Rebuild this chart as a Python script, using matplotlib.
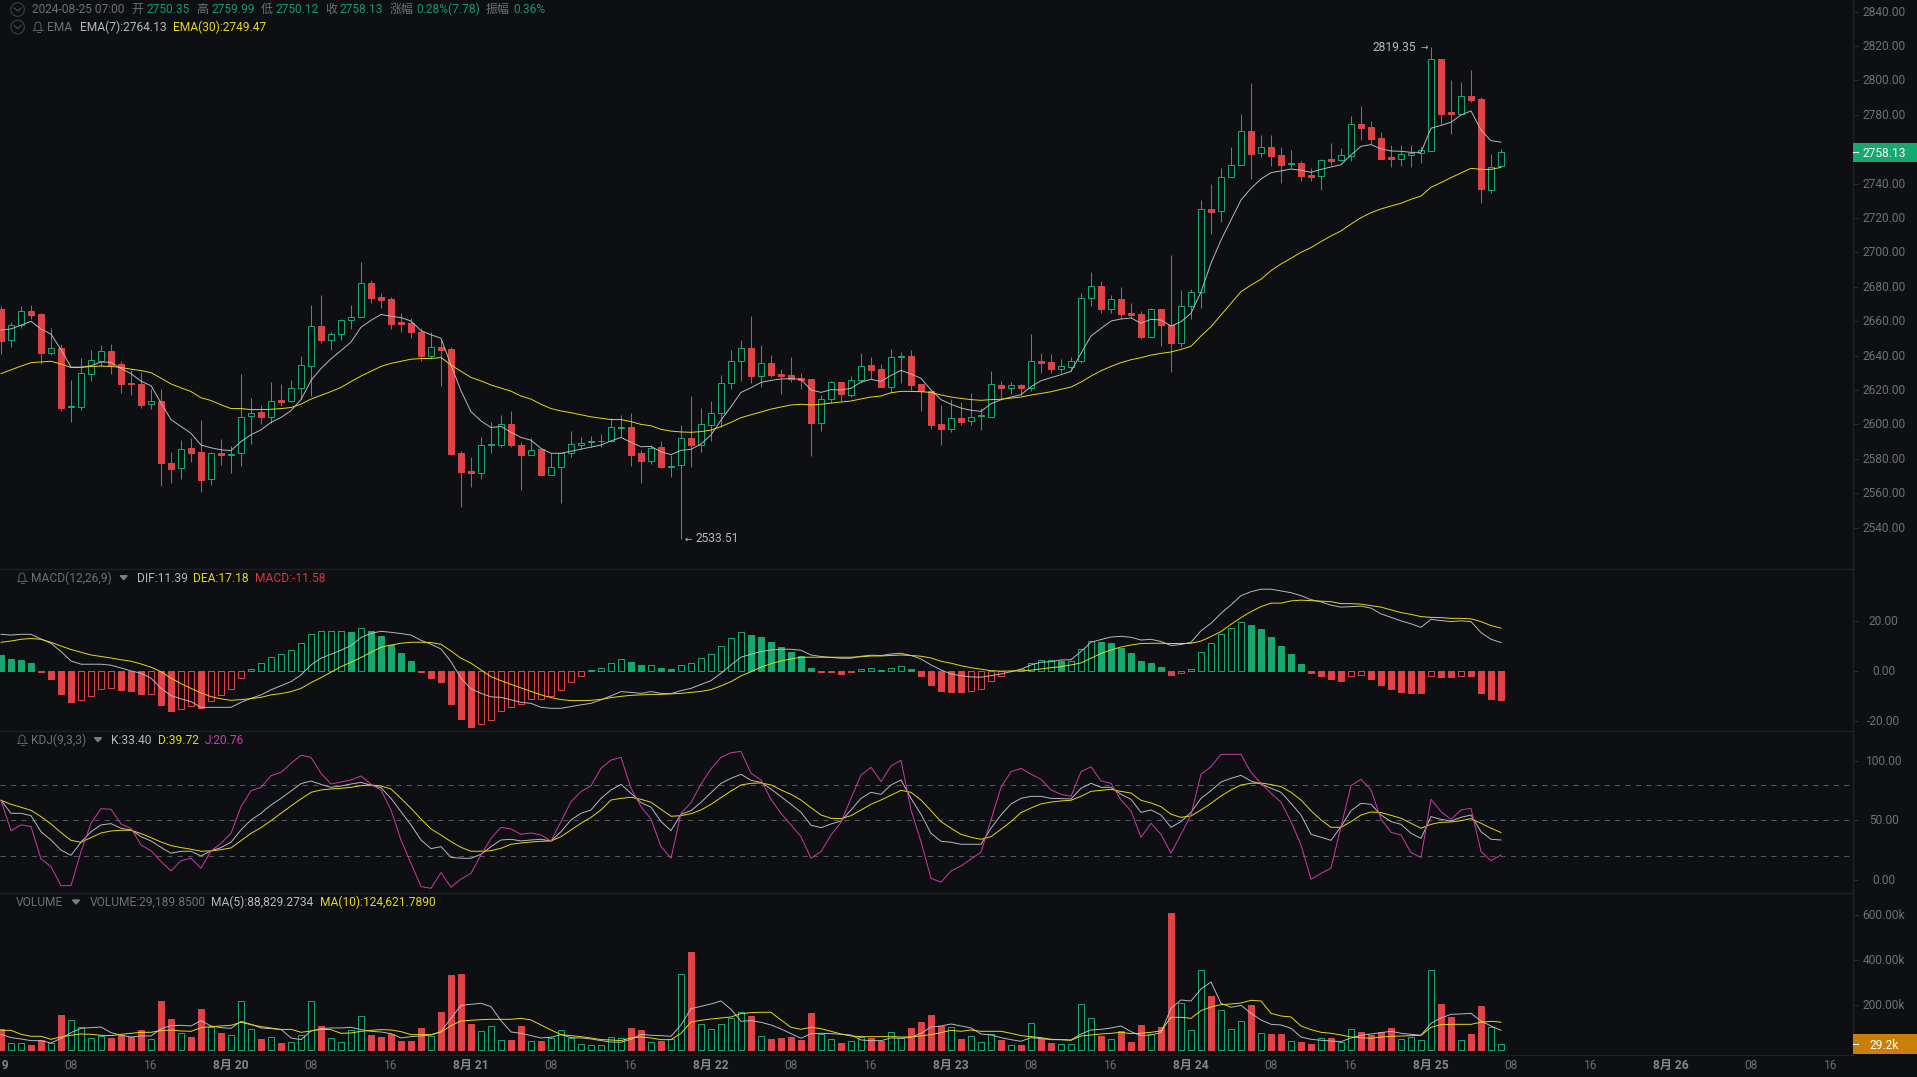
import numpy as np
import matplotlib
matplotlib.use('Agg')
import matplotlib.pyplot as plt
from matplotlib.patches import Circle, Polygon, Rectangle
from matplotlib.transforms import blended_transform_factory, ScaledTranslation

plt.rcParams['font.family'] = ['Roboto', 'Noto Sans CJK SC', 'DejaVu Sans']

# candles, 1h, index 0 = 08-19 01:00
opens = [2667.1, 2649, 2658, 2665.7, 2664.1, 2641.7, 2644.5, 2610, 2610.2, 2629.5,
         2637, 2642.5, 2634.9, 2624, 2623.5, 2611.7, 2613.5, 2577.8, 2574.4, 2586,
         2583.8, 2568, 2583.2, 2582.4, 2583.2, 2604.6, 2607, 2604.4, 2614, 2613.5,
         2620.9, 2634.1, 2657.5, 2649.3, 2652.3, 2660.5, 2662.7, 2682, 2674, 2673,
         2659.5, 2659, 2654, 2639.7, 2645, 2643.9, 2583.4, 2572.8, 2572, 2587.8,
         2587.8, 2600, 2587.8, 2582.4, 2585.4, 2570.8, 2575, 2583.2, 2588.2, 2589.8,
         2590.2, 2590.4, 2598, 2598.2, 2583.5, 2578.9, 2586.6, 2575.5, 2576.2, 2592.1,
         2588, 2599.6, 2606.4, 2623.9, 2636.7, 2644.4, 2628.3, 2635.7, 2629.3, 2628.5,
         2627, 2626.4, 2601, 2614.6, 2624.4, 2617.3, 2625.6, 2634.3, 2632, 2621.9,
         2639.2, 2639.6, 2623.3, 2619.2, 2600.2, 2597.3, 2604, 2602.2, 2604.8, 2604.5,
         2622.9, 2621.4, 2622.9, 2621.4, 2636.9, 2636.3, 2632.4, 2633.6, 2636.7, 2673.3,
         2680.5, 2667.3, 2672.9, 2664.8, 2664.2, 2651, 2667.1, 2657.8, 2647.5, 2668.6,
         2676.8, 2725.1, 2723.9, 2743.7, 2750.7, 2770.6, 2757.6, 2761.3, 2756.7, 2751.3,
         2751.8, 2745, 2744.3, 2754.3, 2753.6, 2756.3, 2774.5, 2773, 2766.6, 2755.5,
         2754.5, 2756.9, 2757.6, 2759.2, 2812.3, 2781.5, 2780.7, 2790.8, 2789.2, 2736.5,
         2750.35]
closes = [2648.5, 2658, 2665.7, 2663.5, 2641.7, 2644.3, 2609.4, 2610.5, 2629.7, 2637.3,
          2642.5, 2634.5, 2623.7, 2623.3, 2611.5, 2613.5, 2577.8, 2574.2, 2585.4, 2583.6,
          2567.8, 2583.2, 2582.4, 2583, 2604.4, 2606.8, 2604.4, 2613.5, 2613.3, 2620.9,
          2634.5, 2657.5, 2648.9, 2652.3, 2660.5, 2662.5, 2682, 2673.7, 2672.3, 2658.3,
          2658.3, 2654, 2639.7, 2645, 2643.5, 2582.8, 2572.4, 2572, 2587.8, 2588.4,
          2600, 2587.8, 2582.4, 2585.2, 2570.8, 2575, 2583.2, 2588.4, 2589.4, 2590.2,
          2590.6, 2598.2, 2598.6, 2582.4, 2578.9, 2586.5, 2575, 2576, 2591.9, 2588,
          2600, 2606.4, 2623.9, 2636.7, 2644.2, 2628.3, 2635.5, 2628.7, 2628.3, 2626.6,
          2626, 2601, 2614.6, 2624.4, 2617.9, 2625.6, 2634.1, 2631.8, 2621.9, 2639,
          2639.6, 2623.1, 2619.2, 2599.6, 2597.3, 2604, 2601.4, 2604.5, 2605.2, 2623.3,
          2621.4, 2622.7, 2621.4, 2636.7, 2635.7, 2632.2, 2633.8, 2636.7, 2673.3, 2680.3,
          2667.1, 2672.7, 2664.2, 2663.8, 2650.6, 2666.9, 2658, 2647.5, 2668.6, 2676.8,
          2725.1, 2723.7, 2743.7, 2750.7, 2770.4, 2757.4, 2761.1, 2756.3, 2751, 2751.8,
          2744.7, 2744.1, 2754, 2753.2, 2756.5, 2774.5, 2772.4, 2766.2, 2754.3, 2754.3,
          2757, 2757.6, 2759.6, 2812.3, 2780.5, 2780.5, 2790.8, 2788.6, 2736.9, 2749.5,
          2758.13]
highs = [2669, 2659.5, 2668.7, 2669.3, 2664.5, 2656, 2646.9, 2625.7, 2638.5, 2643,
         2646, 2646.7, 2636.9, 2631.5, 2630.5, 2620.5, 2620.3, 2584, 2590.8, 2592,
         2602.4, 2584, 2591.4, 2587.4, 2629.5, 2615.5, 2611.4, 2624.9, 2623.5, 2625.7,
         2639.5, 2669.5, 2675.5, 2654, 2661, 2669.5, 2694.2, 2684, 2676.4, 2674.3,
         2665, 2662, 2656, 2654, 2649.5, 2645, 2584.4, 2581, 2592.4, 2601.2,
         2605.2, 2608, 2590, 2592, 2585.6, 2583.2, 2583.4, 2596.4, 2592.4, 2593.4,
         2594.4, 2604, 2605.2, 2606.4, 2585.1, 2588, 2590.5, 2582.2, 2599.6, 2616.5,
         2609.3, 2613.6, 2628.7, 2643.2, 2649, 2663, 2646.2, 2640.1, 2632.2, 2639,
         2629.9, 2626.6, 2617.1, 2625.4, 2624.6, 2628.3, 2641.3, 2639.4, 2635.1, 2643.6,
         2642.1, 2643.2, 2623.5, 2620, 2611.3, 2615, 2613, 2618.4, 2609.3, 2630.8,
         2625.4, 2624.4, 2623.5, 2652.6, 2641.7, 2640.9, 2637.8, 2639, 2676.6, 2688.4,
         2683.2, 2675, 2679.7, 2670.8, 2666.1, 2667.5, 2667.2, 2698.5, 2678.1, 2678.9,
         2730.5, 2739.6, 2748.9, 2761.5, 2780.7, 2798.5, 2768.1, 2768.1, 2761.5, 2759.8,
         2753.2, 2748.9, 2754.2, 2763.5, 2760.5, 2779.3, 2785.4, 2776.6, 2770, 2762.5,
         2762.5, 2762.3, 2762.1, 2819.35, 2812.5, 2800.3, 2798.9, 2806, 2790.4, 2757.2,
         2759.99]
lows = [2641, 2645, 2656, 2661.3, 2635, 2640.5, 2607.6, 2601.4, 2608.4, 2625.3,
        2634, 2629.5, 2618.3, 2616.9, 2609.5, 2608.9, 2564.4, 2565.8, 2568.4, 2578,
        2560.4, 2565, 2576.4, 2572, 2576, 2588.4, 2600, 2600.8, 2610.8, 2613,
        2614.8, 2616.5, 2647.3, 2643, 2649.3, 2655.7, 2662.7, 2670.5, 2667.5, 2655.3,
        2654, 2650.5, 2636.9, 2638.5, 2622.5, 2582.4, 2552, 2563.4, 2568, 2583.2,
        2587, 2587, 2561.6, 2582, 2570.2, 2570.8, 2554, 2581.2, 2585.6, 2586.8,
        2586.8, 2590, 2592.4, 2576, 2565.7, 2576.9, 2574.4, 2569.2, 2533.51, 2575.4,
        2583.7, 2590.5, 2598.7, 2620.4, 2625.2, 2623.9, 2621.5, 2627.7, 2617.5, 2624.8,
        2620.4, 2581.8, 2596.3, 2612.2, 2613.8, 2616.1, 2624.2, 2626.6, 2621.5, 2618.4,
        2623.9, 2620, 2608, 2597.5, 2588, 2595.6, 2599.6, 2599.6, 2596.7, 2604.5,
        2614.2, 2617.7, 2616.9, 2619.4, 2630.1, 2630.1, 2630.1, 2630.8, 2635.9, 2668.8,
        2665, 2665, 2661.3, 2661.7, 2649.5, 2650.6, 2645.6, 2630.6, 2644.8, 2661.3,
        2667.9, 2710.7, 2717.9, 2743.7, 2750.7, 2742.5, 2755.3, 2750.5, 2740.6, 2748.9,
        2741.7, 2741.7, 2736.3, 2750.9, 2753.2, 2753.2, 2765.4, 2763.1, 2754.1, 2749.9,
        2750.5, 2749.9, 2752.2, 2759, 2774.7, 2768.9, 2780.7, 2787.5, 2729, 2734.8,
        2750.12]
ema7 = [2654.9, 2655.5, 2657.7, 2659.9, 2655.5, 2652.5, 2643.5, 2633.3, 2633.3, 2634.1,
        2636.3, 2636.1, 2632.5, 2629.5, 2625.1, 2622.5, 2612.5, 2602.8, 2598.8, 2594.8,
        2588, 2586.4, 2585.2, 2584.8, 2590, 2594, 2596.8, 2601.2, 2604, 2608,
        2614.4, 2625.5, 2632.5, 2638.1, 2642.9, 2647.9, 2656.5, 2660.5, 2663.9, 2662.9,
        2662.1, 2660.1, 2654.5, 2652.1, 2650.1, 2634.5, 2619.5, 2607.4, 2602, 2598.2,
        2598.8, 2595.4, 2592.4, 2590.8, 2586, 2583.2, 2583.2, 2584.4, 2585.6, 2586.8,
        2588, 2590.4, 2592.4, 2589.6, 2587, 2587.2, 2584.1, 2582.4, 2584.9, 2585.5,
        2588.6, 2593.8, 2602.5, 2610.3, 2618.6, 2621.3, 2624.4, 2625.6, 2626.4, 2626.6,
        2626.2, 2620, 2618.6, 2620.2, 2620, 2621, 2624.6, 2626.2, 2625, 2628.5,
        2631.4, 2629.3, 2626.8, 2620, 2614.4, 2611.7, 2609.5, 2608.2, 2607.6, 2612,
        2614.4, 2615.9, 2617.3, 2621.9, 2625.4, 2627.2, 2628.9, 2630.8, 2641.3, 2651.4,
        2655.8, 2660.1, 2661.3, 2661.9, 2658.8, 2661.1, 2660.7, 2657.2, 2659.7, 2664.6,
        2677, 2693.7, 2707.2, 2718.9, 2730.5, 2737.3, 2742.7, 2746.4, 2747.4, 2748.5,
        2747.8, 2746.6, 2748.3, 2749.7, 2751, 2756.7, 2761.7, 2762.7, 2760.2, 2759,
        2758.8, 2758.2, 2758.2, 2772.2, 2773.9, 2775.7, 2779.9, 2782.3, 2771.2, 2765,
        2764.13]
ema30 = [2629.5, 2631.7, 2633.9, 2635.9, 2636.3, 2636.7, 2635.1, 2633.1, 2633.1, 2633.7,
         2633.9, 2633.7, 2633.1, 2632.1, 2631.3, 2630.1, 2626.9, 2623.5, 2621.3, 2619.1,
         2615.5, 2613.9, 2611.4, 2609.2, 2609.2, 2608.6, 2608.6, 2608.8, 2609.2, 2609.8,
         2611.8, 2614.7, 2616.9, 2619.1, 2621.5, 2624.9, 2628.1, 2630.9, 2633.7, 2635.5,
         2636.7, 2637.9, 2638.3, 2638.3, 2638.9, 2634.5, 2630.9, 2627.3, 2625.3, 2622.9,
         2621.1, 2619.3, 2616.5, 2614.7, 2611.7, 2609.2, 2607.8, 2606.8, 2605.6, 2604.4,
         2603.6, 2602.8, 2602.8, 2601.6, 2600, 2599.2, 2597.1, 2596.1, 2595.6, 2595.4,
         2595.8, 2596.7, 2598.7, 2601.2, 2603.9, 2605.6, 2607.2, 2608.9, 2610.1, 2611.3,
         2611.7, 2611.3, 2611.7, 2612.4, 2613, 2613.6, 2614.8, 2615.9, 2616.5, 2618.4,
         2619.2, 2619.2, 2619, 2618.6, 2617.1, 2615.9, 2615.1, 2614.4, 2614, 2614.4,
         2614.6, 2615.3, 2615.9, 2617.1, 2618, 2619, 2620.4, 2621.7, 2624.6, 2628.1,
         2631.2, 2633.7, 2635.9, 2637.6, 2638.8, 2640.3, 2641.3, 2642.1, 2643.6, 2645.4,
         2651.4, 2656.8, 2663.6, 2670.4, 2677.2, 2681, 2684.4, 2689.4, 2693.3, 2696.6,
         2700.1, 2702.8, 2706.3, 2709.6, 2712.5, 2716.5, 2720.2, 2723.1, 2725.3, 2727,
         2728.6, 2730.9, 2732.8, 2737.9, 2740.6, 2743.5, 2746.2, 2748.9, 2748.3, 2748.3,
         2749.47]

# MACD
macd_hist = [6.4, 4.8, 4.4, 3.1, -0.6, -3.2, -9.2, -12.3, -11.5, -9.9,
             -7.4, -6.7, -7.6, -8.0, -9.1, -9.1, -13.6, -16.1, -15.1, -14,
             -14.7, -11.9, -9.6, -7.4, -2.7, 0.8, 3.1, 5.5, 6.8, 8.3,
             11.1, 14.7, 15.9, 15.9, 15.9, 15.7, 17.1, 15.9, 14, 10.3,
             7.1, 3.9, -0.6, -2.8, -4.4, -13.2, -19.3, -22.5, -21.1, -19.5,
             -15.9, -14.3, -13.1, -11.2, -11.2, -10.2, -7.5, -4.3, -2.1, 0.3,
             1.3, 3.3, 4.7, 3.6, 2.2, 2.3, 1.2, 0.8, 2.3, 3.1,
             5.1, 6.7, 9.9, 13.1, 15.5, 14.4, 13.6, 11.5, 9.5, 7.6,
             5.8, 1.2, -0.6, -0.3, -1.2, -0.6, 0.8, 1.1, 0.4, 1.1,
             1.9, 0.8, -2, -5.6, -8, -8.4, -8.5, -7.9, -7.1, -3.9,
             -1.9, 0.1, 0.8, 3.1, 4.3, 4.3, 4, 4.1, 8.7, 11.9,
             11.6, 11.2, 9.1, 7.2, 4, 3.2, 1.6, -1.5, -0.7, 0.8,
             7.5, 11.1, 14.7, 17.1, 19.5, 18.5, 16.9, 13.6, 10, 6.8,
             2.8, -0.7, -2, -3.2, -4, -2.1, -1.7, -3.2, -5.6, -7.2,
             -8.4, -8.8, -8.9, -1.9, -2.4, -2.5, -1.9, -2, -8.8, -11.3,
             -11.58]
dif = [14.7, 14.4, 14.7, 14.7, 12.8, 11.1, 7.8, 4, 2.7, 2.7,
       2.7, 2.3, 1.2, 0, -0.9, -2.9, -7, -9.9, -11.2, -12.3,
       -14.6, -14.6, -14.6, -14.6, -12.6, -11, -9.6, -7.6, -5.9, -4.3,
       -1.6, 2.4, 5.1, 6.7, 8.3, 10.2, 13.4, 15.1, 15.9, 15.5,
       15, 14.4, 12.3, 10.7, 8.8, 3.7, -2.9, -7.2, -9, -10.4,
       -10.6, -11.6, -12.6, -13, -14.6, -15, -15, -14.3, -13.6, -13,
       -11.6, -10, -8.3, -8.6, -9, -8.3, -9, -9.1, -7.9, -7,
       -5.4, -3.9, -0.9, 2.4, 5.5, 6.7, 7.8, 8.4, 8.7, 8.7,
       8.3, 6.4, 5.8, 5.4, 5.1, 5.1, 5.9, 6.3, 6.2, 6.8,
       7.1, 6.2, 4.8, 2.4, 0.4, -1.2, -1.9, -2.4, -2.5, -1.9,
       -1.2, -0.3, 0.7, 2.4, 3.5, 3.7, 4.4, 4.5, 7.8, 11.5,
       12.6, 13.6, 13.9, 13.5, 12.4, 12.7, 11.8, 10.2, 10.6, 11.5,
       16.1, 19.1, 23.1, 26.5, 30.2, 31.8, 32.8, 32.8, 32.1, 31.4,
       30.2, 28.6, 27.7, 26.4, 25.6, 25.8, 26, 25.2, 22.9, 21.5,
       20.1, 18.9, 17.5, 20.7, 20.2, 19.8, 20.1, 19.8, 15.4, 12.7,
       11.39]
dea = [11.5, 12, 12.7, 13, 12.7, 11.5, 10, 8.6, 7.5, 6.4,
       5.8, 5.2, 4.5, 3.9, 2.8, 1.5, -0.3, -2.9, -5.1, -7,
       -8.8, -10.3, -11.2, -11.8, -11.5, -11.1, -10.6, -9.6, -9.1, -8.3,
       -7, -4.7, -2.7, -0.5, 1.7, 3.5, 5.4, 7.5, 9.5, 10.4,
       11.1, 11.5, 11.5, 11.4, 10.7, 8, 5.1, 3.1, 0.4, -2.3,
       -3.9, -5.4, -6.8, -8.2, -9.6, -10.7, -11.5, -11.9, -11.9, -11.8,
       -11.4, -10.7, -10.2, -9.8, -9.6, -9.4, -9.4, -9.2, -9, -8.6,
       -8.2, -7.5, -6, -4.3, -2, -0.3, 1.5, 2.9, 4, 4.8,
       5.5, 5.5, 5.5, 5.5, 5.5, 5.5, 5.7, 6, 6, 6.2,
       6.4, 6.2, 5.9, 5.2, 3.9, 3.1, 2.1, 1.3, 0.7, 0.1,
       -0.1, 0, 0, 0.3, 0.8, 1.3, 1.7, 2.4, 3.2, 5.1,
       7, 8.4, 9.6, 10.4, 11, 11.1, 11.1, 11, 11, 11.1,
       12, 13.8, 15.8, 18.7, 21.4, 23.8, 25.8, 27.2, 27.2, 28.1,
       28.4, 28.2, 28, 27.8, 27, 27, 26.8, 26.2, 25.6, 24.5,
       23.4, 22.7, 21.8, 21.5, 21.4, 21.1, 21.1, 20.9, 19.8, 18.2,
       17.18]

# KDJ
kdj_k = [66.9, 55.9, 55.9, 53.9, 40.4, 33.4, 24.9, 20.5, 31.5, 40.4,
         46.1, 47.2, 43.3, 41.9, 36.2, 32.6, 27.2, 22.2, 23.9, 23.9,
         19.9, 24.2, 27, 31.5, 41.9, 50.3, 55.9, 62.9, 68.5, 74.7,
         80.9, 83.1, 80.3, 77.8, 78.9, 80.6, 82, 79.5, 77.5, 68.5,
         57.3, 46.1, 33.4, 26.1, 27.8, 18.8, 18, 18, 21.3, 27.8,
         33.4, 34, 32.6, 33.4, 34, 32.6, 40.4, 50.3, 55.9, 58.7,
         68.5, 75.6, 80.3, 72.8, 64.9, 61, 48.9, 41.3, 55.1, 58.1,
         65.2, 73.3, 81.2, 85.4, 88.8, 83.7, 82, 76.4, 69.9, 63.5,
         56.7, 45.8, 43.8, 46.9, 49.4, 58.7, 68.5, 73.6, 71.9, 79.8,
         84, 68.5, 55.1, 39, 32.3, 31.5, 29.8, 29.8, 29.8, 43.3,
         54.5, 63.8, 68.5, 70.2, 70.2, 68.5, 68.3, 68, 77, 81.2,
         77.8, 77.8, 71.9, 67.7, 56.7, 58.7, 54.5, 44.1, 48.9, 56.7,
         68.5, 75, 82.3, 85.4, 87.9, 83.1, 80.6, 77, 73.6, 64.3,
         54.5, 38.2, 35.7, 33.1, 44.7, 58.1, 64.3, 63.5, 54.5, 48.9,
         46.6, 39, 34.8, 53.1, 50.8, 49.4, 52.5, 54.5, 40.4, 34,
         33.4]
kdj_d = [66.9, 63.5, 61, 58.4, 53.1, 46.9, 39.6, 33.1, 31.5, 35.4,
         39.3, 41, 41.6, 41.6, 38.8, 35.4, 31.7, 28.7, 27, 25.6,
         23.9, 24.2, 25.3, 26.7, 32.9, 39, 43.8, 49.7, 55.9, 62.1,
         68, 73.6, 75.6, 76.4, 77, 77.8, 79.2, 79.8, 78.9, 76.4,
         68.5, 60.1, 51.1, 42.7, 37.6, 32, 27.2, 23.9, 23.9, 24.4,
         26.4, 29.8, 30.9, 31.7, 32.3, 32.6, 36.2, 41.9, 47.5, 52.5,
         58.7, 67.1, 68.5, 69.4, 67.7, 65.2, 59.3, 53.4, 53.9, 55.6,
         58.7, 63.5, 69.1, 74.7, 79.8, 81.2, 81.5, 79.8, 75.6, 71.9,
         67.1, 60.7, 54.5, 51.7, 51.4, 53.9, 58.7, 63.5, 67.1, 71.1,
         75.3, 73.6, 67.1, 58.1, 48.9, 43.3, 38.2, 35.7, 34, 36.2,
         42.4, 48.9, 56.5, 60.4, 63.8, 65.4, 66.3, 66.9, 70.2, 74.4,
         75.3, 76.1, 74.4, 73, 66.9, 64.6, 61.5, 55.1, 52.5, 53.7,
         58.7, 64.3, 70.5, 75.6, 79.8, 81.2, 81.5, 80.1, 78.4, 73.6,
         67.1, 58.1, 50.3, 44.1, 44.1, 48.9, 54.5, 57, 56.5, 54.2,
         51.7, 47.5, 43.3, 46.6, 48.3, 48.6, 49.7, 51.4, 47.5, 43.3,
         39.72]
kdj_j = [66.9, 41.3, 46.1, 44.7, 17.4, 11, -5.1, -5.1, 23.6, 47.5,
         59.8, 59.3, 46.9, 43.3, 29.2, 24.4, 15.2, 7.3, 16, 18,
         9.6, 24.2, 30.6, 39, 61.5, 75, 77.8, 87.6, 90.4, 98,
         104.8, 103.1, 89.6, 80.6, 82.3, 84, 87.4, 80.3, 75.6, 58.7,
         33.4, 13.8, -5.9, -7.3, 5.9, -6.5, 0.6, 5.3, 20.8, 34.8,
         44.1, 42.7, 38.2, 39.3, 37.6, 32.6, 48.9, 65.7, 74.2, 79.2,
         93.8, 100.8, 103.1, 77, 61.5, 51.1, 27.8, 18, 55.9, 64.9,
         80.6, 93.3, 103.1, 107, 108.1, 89.6, 84, 67.7, 55.9, 46.1,
         36.2, 18, 23.6, 37.6, 48.3, 68.5, 88.2, 94.7, 82.6, 95.8,
         100.6, 58.7, 32, 1.1, -2.2, 7.3, 11.5, 17.4, 23, 50.3,
         77.8, 91, 93.8, 89, 84.6, 75.6, 71.9, 70.2, 91, 95.2,
         83.1, 81.2, 67.1, 57.9, 35.7, 47.5, 38.2, 22.2, 38.2, 54.5,
         88.8, 95.2, 105.6, 105.6, 105.6, 90.4, 81.2, 72.8, 65.2, 48.9,
         29.2, 0.3, 5.3, 9.6, 44.7, 79.2, 84.6, 75.6, 51.1, 39.9,
         37.6, 22.8, 18.8, 67.7, 57.3, 50.8, 58.7, 60.1, 23.6, 16,
         20.76]

# volume, thousands
volume = [94.5, 31, 31, 23.6, 45.8, 31, 156.5, 134.3, 101.8, 54.6,
          64.9, 54.6, 67.9, 57.6, 90, 48.7, 218.4, 138.7, 75.3, 59,
          183, 101.8, 76.8, 66.4, 218.4, 93, 50.2, 57.6, 32.5, 35.4,
          66.4, 218.4, 107.7, 53.1, 35.4, 88.6, 150.6, 67.9, 59, 72.3,
          41.3, 41.3, 98.9, 63.5, 169.7, 333.6, 338, 116.6, 84.1, 106.3,
          44.3, 45.8, 107.7, 39.9, 41.3, 54.6, 88.6, 53.1, 26.6, 23.6,
          23.6, 57.6, 53.1, 98.9, 90, 38.4, 41.3, 50.2, 336.5, 435.4,
          115.1, 93, 115.1, 143.2, 168.3, 152, 62, 50.2, 54.6, 59,
          45.8, 165.3, 72.3, 48.7, 32.5, 39.9, 59, 54.6, 42.8, 79.7,
          54.6, 98.9, 125.5, 156.5, 107.7, 101.8, 50.2, 62, 35.4, 70.8,
          45.8, 22.1, 23.6, 119.6, 50.2, 32.5, 26.6, 26.6, 203.7, 141.7,
          63.5, 48.7, 85.6, 36.9, 112.2, 70.8, 103.3, 608, 208.1, 88.6,
          354.2, 240.6, 177.1, 93, 128.4, 200.7, 75.3, 72.3, 72.3, 39.9,
          36.9, 28, 53.1, 54.6, 35.4, 93, 81.2, 67.9, 81.2, 98.9,
          48.7, 57.6, 44.3, 354.2, 205.2, 147.6, 44.3, 72.3, 196.3, 101.8,
          29.19]
vol_ma5 = [70.8, 56.1, 50.2, 42.8, 42.8, 32.5, 53.1, 78.2, 97.4, 100.4,
           103.3, 78.2, 66.4, 59, 63.5, 63.5, 95.9, 109.2, 110.7, 107.7,
           131.4, 107.7, 100.4, 97.4, 128.4, 115.1, 98.9, 95.9, 93, 54.6,
           47.2, 85.6, 95.9, 98.9, 98.9, 101.8, 91.5, 84.1, 81.2, 73.8,
           54.6, 60.5, 63.5, 67.9, 82.7, 141.7, 199.3, 203.7, 208.1, 193.4,
           131.4, 81.2, 75.3, 64.9, 54.6, 57.6, 69.4, 56.1, 54.6, 50.2,
           42.8, 36.9, 35.4, 48.7, 70.8, 66.4, 64.9, 62, 112.2, 184.5,
           194.8, 205.2, 218.4, 181.5, 128.4, 131.4, 124, 112.2, 94.5, 73.8,
           53.1, 73.8, 75.3, 73.8, 70.8, 67.9, 45.8, 42.8, 42.8, 54.6,
           53.1, 57.6, 75.3, 103.3, 107.7, 116.6, 107.7, 98.9, 72.3, 67.9,
           56.1, 47.2, 39.9, 56.1, 51.7, 47.2, 47.2, 45.8, 72.3, 90,
           93, 98.9, 107.7, 82.7, 64.9, 67.9, 78.2, 186, 222.9, 218.4,
           271.6, 302.6, 208.1, 190.4, 199.3, 163.8, 134.3, 115.1, 112.2, 97.4,
           59, 48.7, 44.3, 41.3, 38.4, 54.6, 66.4, 72.3, 78.2, 84.1,
           75.3, 70.8, 66.4, 119.6, 143.2, 159.4, 160.9, 163.8, 129.9, 107.7,
           88.83]
vol_ma10 = [88.6, 88.6, 70.8, 62, 62, 48.7, 59, 66.4, 72.3, 70.8,
            66.4, 64.9, 70.8, 75.3, 79.7, 79.7, 87.1, 90, 85.6, 84.1,
            100.4, 104.8, 107.7, 110.7, 124, 113.7, 104.8, 98.9, 91.5, 93,
            79.7, 85.6, 93, 91.5, 75.3, 76.8, 84.1, 88.6, 91.5, 90,
            82.7, 69.4, 69.4, 69.4, 81.2, 109.2, 129.9, 132.8, 135.8, 137.3,
            137.3, 137.3, 141.7, 134.3, 112.2, 90, 69.4, 64.9, 60.5, 54.6,
            47.2, 45.8, 42.8, 54.6, 59, 54.6, 47.2, 47.2, 75.3, 125.5,
            132.8, 138.7, 143.2, 147.6, 162.4, 166.8, 168.3, 168.3, 134.3, 101.8,
            93, 101.8, 95.9, 84.1, 72.3, 63.5, 60.5, 60.5, 60.5, 60.5,
            59, 59, 63.5, 69.4, 78.2, 88.6, 84.1, 90, 84.1, 84.1,
            84.1, 75.3, 64.9, 60.5, 56.1, 48.7, 47.2, 44.3, 63.5, 67.9,
            72.3, 75.3, 79.7, 73.8, 75.3, 79.7, 85.6, 146.1, 146.1, 141.7,
            175.6, 191.9, 202.2, 205.2, 209.6, 221.4, 218.4, 163.8, 152, 147.6,
            107.7, 91.5, 79.7, 75.3, 67.9, 59, 56.1, 53.1, 59, 62,
            63.5, 64.9, 66.4, 101.8, 113.7, 115.1, 115.1, 115.1, 124, 128.4,
            124.62]

# right hand ticks, 2760 sits behind the last price tag so it is left out
price_ticks = [t for t in range(2540, 2841, 20) if t != 2760]
macd_ticks = [-20, 0, 20]
kdj_ticks = [0, 50, 100]
kdj_levels = [20, 50, 80]
vol_ticks = [200, 400, 600]

# bottom time labels, first one is cut by the left edge
time_pos = [-1, 7, 15, 23, 31, 39, 47, 55, 63, 71, 79, 87, 95, 103, 111,
            119, 127, 135, 143, 151, 159, 167, 175, 183]
time_labels = ['8月 19', '08', '16', '8月 20', '08', '16', '8月 21', '08', '16', '8月 22', '08', '16',
               '8月 23', '08', '16', '8月 24', '08', '16', '8月 25', '08', '16', '8月 26', '08', '16']

BG = '#0d0f12'
GRID = '#1d2024'
GREEN = '#17a870'
RED = '#df4348'
WHITE = '#b8b9bd'
YELLOW = '#e6d81e'
PINK = '#cf3aa6'
GREY = '#6d7078'
ORANGE = '#cb7f0a'
FS = 8.64
W, H = 1917, 1077
PLOT_R = 1853
LW = 0.7

fig = plt.figure(figsize=(W / 100, H / 100), dpi=100, facecolor=BG)


def make_panel(top, bottom, ylim, ticks, labels):
    ax = fig.add_axes([0, 1 - bottom / H, PLOT_R / W, (bottom - top) / H], facecolor=BG)
    ax.set_xlim(-0.1, 185.2)
    ax.set_ylim(*ylim)
    for s in ['left', 'bottom']:
        ax.spines[s].set_visible(False)
    for s in ['top', 'right']:
        ax.spines[s].set_color(GRID)
        ax.spines[s].set_linewidth(1)
    ax.set_xticks([])
    ax.yaxis.tick_right()
    ax.set_yticks(ticks)
    ax.set_yticklabels(labels, fontsize=FS, color=GREY, ha='center')
    ax.tick_params(axis='y', length=3.6, width=0.72, color='#2a2d32', pad=18.5)
    # labels sit about a pixel above the tick in the original
    up_1px = ScaledTranslation(0, 1 / 100, fig.dpi_scale_trans)
    for lab in ax.get_yticklabels():
        lab.set_transform(lab.get_transform() + up_1px)
    return ax


def bars_hollow(ax, x, base, height, color, hollow):
    ax.bar(x, height, bottom=base, width=0.55, facecolor=BG if hollow else color,
           edgecolor=color, linewidth=0.72, zorder=2)


x = np.arange(len(opens))
o = np.array(opens)
c = np.array(closes)
up = c >= o

# price panel
ax1 = make_panel(0, 569, (2515.9, 2846.8), price_ticks, [f'{v:.2f}' for v in price_ticks])
ax1.spines['top'].set_visible(False)
ax1.vlines(x[up], np.array(lows)[up], np.array(highs)[up], color=GREEN, linewidth=0.75, zorder=1)
ax1.vlines(x[~up], np.array(lows)[~up], np.array(highs)[~up], color=RED, linewidth=0.75, zorder=1)
bars_hollow(ax1, x[up], o[up], (c - o)[up], GREEN, True)
bars_hollow(ax1, x[~up], c[~up], (o - c)[~up], RED, False)
ax1.plot(x, ema7, color=WHITE, linewidth=LW, zorder=3)
ax1.plot(x, ema30, color=YELLOW, linewidth=LW, zorder=3)

# high / low markers, number and a small arrow
hi_i = int(np.argmax(highs))
lo_i = int(np.argmin(lows))
ax1.annotate(f'{highs[hi_i]:.2f}', (hi_i, highs[hi_i]), xytext=(-15.5 * 0.72, 0),
             textcoords='offset points', color=WHITE, fontsize=FS, ha='right', va='center')
ax1.annotate('→', (hi_i, highs[hi_i]), xytext=(-3 * 0.72, 0), textcoords='offset points',
             color=WHITE, fontsize=6.5, ha='right', va='center', family='DejaVu Sans')
ax1.annotate(f'{lows[lo_i]:.2f}', (lo_i, lows[lo_i]), xytext=(14.5 * 0.72, 0),
             textcoords='offset points', color=WHITE, fontsize=FS, ha='left', va='center')
ax1.annotate('←', (lo_i, lows[lo_i]), xytext=(3.5 * 0.72, 0), textcoords='offset points',
             color=WHITE, fontsize=6.5, ha='left', va='center', family='DejaVu Sans')

# last price tag
tr = blended_transform_factory(ax1.transAxes, ax1.transData)
ax1.add_patch(Rectangle((1, closes[-1] - 5.7), (W - PLOT_R) / PLOT_R, 11.4, transform=tr,
                        facecolor=GREEN, edgecolor='none', clip_on=False, zorder=5))
ax1.text(1 + 31 / PLOT_R, closes[-1], f'{closes[-1]:.2f}', transform=tr, color='white',
         fontsize=FS, ha='center', va='center_baseline', zorder=6)
ax1.plot([1, 1 + 5 / PLOT_R], [closes[-1]] * 2, transform=tr, color='white', linewidth=0.8,
         clip_on=False, zorder=6)

# MACD panel
h = np.array(macd_hist)
rising = np.r_[False, h[1:] >= h[:-1]]
ax2 = make_panel(569, 731, (-24.1, 40.9), macd_ticks, [f'{v:.2f}' for v in macd_ticks])
for mask, col in [(h >= 0, GREEN), (h < 0, RED)]:
    bars_hollow(ax2, x[mask & rising], 0, h[mask & rising], col, True)
    bars_hollow(ax2, x[mask & ~rising], 0, h[mask & ~rising], col, False)
ax2.plot(x, dif, color=WHITE, linewidth=LW, zorder=3)
ax2.plot(x, dea, color=YELLOW, linewidth=LW, zorder=3)

# KDJ panel
ax3 = make_panel(731, 893, (-11.3, 125.3), kdj_ticks, [f'{v:.2f}' for v in kdj_ticks])
for lv in kdj_levels:
    ax3.axhline(lv, color='#55585e', linewidth=0.75, dashes=(5, 5), zorder=1)
ax3.plot(x, kdj_k, color=WHITE, linewidth=LW, zorder=3)
ax3.plot(x, kdj_d, color=YELLOW, linewidth=LW, zorder=3)
ax3.plot(x, kdj_j, color=PINK, linewidth=LW, zorder=3)

# volume panel
v = np.array(volume)
ax4 = make_panel(893, 1055, (-20.8, 696.7), vol_ticks, [f'{t:.2f}k' for t in vol_ticks])
ax4.spines['bottom'].set_visible(True)
ax4.spines['bottom'].set_color(GRID)
bars_hollow(ax4, x[up], 0, v[up], GREEN, True)
bars_hollow(ax4, x[~up], 0, v[~up], RED, False)
ax4.plot(x, vol_ma5, color=WHITE, linewidth=LW, zorder=3)
ax4.plot(x, vol_ma10, color=YELLOW, linewidth=LW, zorder=3)

tr4 = blended_transform_factory(ax4.transAxes, ax4.transData)
ax4.add_patch(Rectangle((1, volume[-1] - 44), (W - PLOT_R) / PLOT_R, 88, transform=tr4,
                        facecolor=ORANGE, edgecolor='none', clip_on=False, zorder=5))
ax4.text(1 + 31 / PLOT_R, volume[-1], f'{volume[-1]:.1f}k', transform=tr4, color='white',
         fontsize=FS, ha='center', va='center_baseline', zorder=6)
ax4.plot([1, 1 + 5 / PLOT_R], [volume[-1]] * 2, transform=tr4, color='white', linewidth=0.8,
         clip_on=False, zorder=6)

# time labels under the volume panel
for pos, lab in zip(time_pos, time_labels):
    is_day = '月' in lab
    ax4.text(pos, -0.065, lab, transform=ax4.get_xaxis_transform(), ha='center', va='center',
             fontsize=FS, color='#85878e' if is_day else GREY,
             fontweight='bold' if is_day else 'normal')

# overlay in pixels for the legend rows and little icons
ov = fig.add_axes([0, 0, 1, 1], facecolor='none', zorder=10)
ov.set_xlim(0, W)
ov.set_ylim(H, 0)
ov.axis('off')


def row(y, items):
    for xp, txt, col in items:
        ov.text(xp, y - 1, txt, color=col, fontsize=FS, ha='left', va='center_baseline')


def bell(xc, y):
    ov.plot([xc - 4, xc - 3, xc - 3, xc - 1.5, xc + 1.5, xc + 3, xc + 3, xc + 4],
            [y + 3.5, y + 2, y - 2, y - 4.5, y - 4.5, y - 2, y + 2, y + 3.5],
            color='#5d6067', linewidth=0.7)
    ov.plot([xc - 5, xc + 5], [y + 3.5, y + 3.5], color='#5d6067', linewidth=0.7)
    ov.plot([xc - 1.5, xc + 1.5], [y + 5.5, y + 5.5], color='#5d6067', linewidth=0.7)


def chevron(xc, y):
    ov.add_patch(Circle((xc, y), 6.8, fill=False, edgecolor='#3c3f45', linewidth=0.8))
    ov.plot([xc - 3.5, xc, xc + 3.5], [y - 1.5, y + 1.5, y - 1.5], color='#4c4f55', linewidth=0.8)


def caret(xc, y):
    ov.add_patch(Polygon([(xc - 3.5, y - 2), (xc + 3.5, y - 2), (xc, y + 2)], color='#7a7d85'))


GVAL = '#16996b'
chevron(17.6, 9.5)
chevron(17.6, 27)
row(9.3, [(32, '2024-08-25 07:00', GREY), (131.6, '开', GREY), (146.6, '2750.35', GVAL),
          (196, '高', GREY), (211, '2759.99', GVAL), (260.6, '低', GREY), (275.5, '2750.12', GVAL),
          (325.3, '收', GREY), (340, '2758.13', GVAL), (389.6, '涨幅', GREY),
          (416.8, '0.28%(7.78)', GVAL), (486, '振幅', GREY), (513.2, '0.36%', GVAL)])
bell(38, 26.7)
row(26.7, [(46.7, 'EMA', GREY), (80, 'EMA(7):2764.13', WHITE), (173, 'EMA(30):2749.47', YELLOW)])

bell(22, 577.7)
row(577.7, [(30.6, 'MACD(12,26,9)', GREY), (137, 'DIF:11.39', WHITE), (193.5, 'DEA:17.18', YELLOW),
            (255.5, 'MACD:-11.58', '#d8383d')])
caret(123.7, 577.7)

bell(22, 739.7)
row(739.7, [(30.6, 'KDJ(9,3,3)', GREY), (111.4, 'K:33.40', WHITE), (158, 'D:39.72', YELLOW),
            (204.5, 'J:20.76', PINK)])
caret(98, 739.7)

row(902, [(16.3, 'VOLUME', GREY), (89.4, 'VOLUME:29,189.8500', GREY), (211.4, 'MA(5):88,829.2734', WHITE),
          (320, 'MA(10):124,621.7890', YELLOW)])
caret(76, 902)

fig.savefig('out.png', dpi=100, facecolor=BG)
